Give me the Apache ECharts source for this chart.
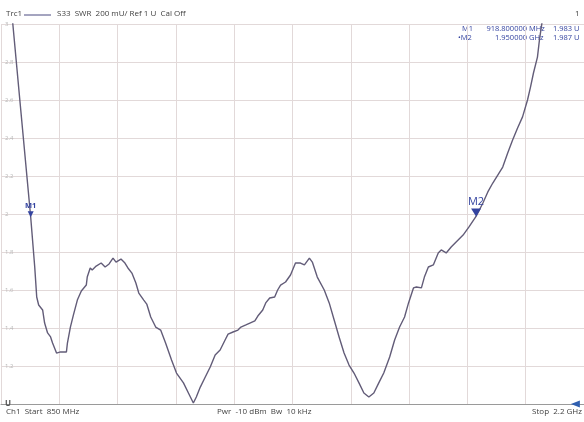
<!DOCTYPE html>
<html>
<head>
<meta charset="utf-8">
<script src="https://cdn.jsdelivr.net/npm/echarts@6/dist/echarts.min.js"></script>
<style>
html,body{margin:0;padding:0;background:#fff;}
#c{width:584px;height:422px;}
</style>
</head>
<body>
<div id="c"></div>
<script>
// ---- data ----
const freqMHz = [870,877.6,893.6,918.8,928.1,932.7,937.2,946.4,951.0,957.9,964.8,969.4,978.6,980.9,987.8,992.4,1001.5,1003.8,1010.7,1017.6,1026.8,1036.0,1047.5,1049.7,1056.6,1061.2,1070.4,1081.9,1091.1,1100.3,1109.4,1116.3,1127.8,1137.0,1143.9,1153.1,1162.3,1169.1,1180.6,1187.5,1196.7,1208.2,1219.7,1231.1,1244.9,1256.4,1272.5,1284.0,1295.4,1302.3,1311.5,1323.0,1334.5,1345.9,1357.4,1368.9,1375.8,1387.3,1398.7,1405.6,1417.1,1426.3,1437.8,1444.7,1456.1,1463.0,1472.2,1483.7,1490.6,1497.4,1508.9,1520.4,1531.9,1543.4,1552.6,1564.1,1570.9,1582.4,1598.5,1610.0,1621.5,1632.9,1644.4,1655.9,1667.4,1678.9,1690.3,1701.8,1713.3,1724.8,1736.3,1750.0,1761.5,1773.0,1784.5,1793.7,1805.1,1812.0,1823.5,1830.4,1839.6,1851.1,1862.5,1869.4,1880.9,1892.4,1903.9,1920.0,1933.7,1950.0,1965.9,1977.3,1988.8,2000.3,2011.8,2023.3,2034.7,2046.2,2057.7,2069.2,2076.1,2083.0,2092.2,2096.8,2103.6,2110.0];
const swr = [3.19,2.995,2.60,1.983,1.721,1.563,1.521,1.495,1.426,1.374,1.353,1.321,1.268,1.263,1.274,1.268,1.274,1.321,1.405,1.468,1.547,1.595,1.626,1.668,1.716,1.705,1.726,1.742,1.721,1.737,1.768,1.747,1.763,1.742,1.716,1.689,1.637,1.584,1.547,1.526,1.458,1.405,1.389,1.321,1.232,1.163,1.111,1.058,1.005,1.037,1.089,1.142,1.195,1.258,1.284,1.337,1.368,1.379,1.389,1.405,1.416,1.426,1.437,1.463,1.495,1.532,1.558,1.563,1.600,1.626,1.642,1.679,1.742,1.742,1.732,1.768,1.747,1.668,1.600,1.532,1.442,1.353,1.268,1.205,1.163,1.111,1.058,1.037,1.058,1.111,1.163,1.247,1.337,1.405,1.458,1.532,1.611,1.616,1.611,1.668,1.721,1.732,1.795,1.811,1.795,1.826,1.853,1.889,1.932,1.987,2.058,2.116,2.163,2.205,2.247,2.321,2.389,2.453,2.511,2.600,2.668,2.742,2.826,2.916,3.021,3.13];
const markerNames = ['M1','M2'];
const markerFreq = [918.8, 1950.0];
const markerSwr = [1.983, 1.987];
const yTickLabels = ['U','1.2','1.4','1.6','1.8','2','2.2','2.4','2.6','2.8','3'];
const refLevel = 1;

const chart = echarts.init(document.getElementById('c'), null, {renderer:'canvas'});
const FONT = 'Open Sans';
const txtCol = '#3f3f3f';
const blue = '#3444a0';

const option = {
  backgroundColor:'#fff',
  animation:false,
  grid:{left:1, top:24, width:588, height:380, containLabel:false},
  xAxis:[
    {type:'value', min:850, max:2200, show:true,
     axisLine:{show:true, lineStyle:{color:'#9a9a9a', width:1}},
     axisTick:{show:false}, axisLabel:{show:false}, splitLine:{show:false}},
    {type:'value', min:0, max:10, interval:1, position:'bottom',
     axisLine:{show:false}, axisTick:{show:false}, axisLabel:{show:false},
     splitLine:{show:true, lineStyle:{color:'#e2d9d9', width:1}}}
  ],
  yAxis:{type:'value', min:1, max:3, interval:0.2,
    axisLine:{show:false}, axisTick:{show:false},
    splitLine:{show:true, lineStyle:{color:'#e2d9d9', width:1}},
    axisLabel:{inside:true, margin:4, fontFamily:FONT, fontSize:6, color:'#b8b8b8',
      formatter:function(v){const i=Math.round((v-1)/0.2); const s=yTickLabels[i]||''; return i===0?'{u|'+s+'}':s;},
      rich:{u:{fontFamily:FONT, fontSize:8, fontWeight:'bold', color:'#555'}}}
  },
  series:[{
    type:'line', xAxisIndex:0, data:freqMHz.map((f,i)=>[f,swr[i]]),
    showSymbol:false, symbol:'none', clip:true,
    lineStyle:{color:'#625c78', width:1.4},
    markPoint:{
      symbol:'triangle', symbolRotate:180, animation:false,
      data:[
        {coord:[markerFreq[0],markerSwr[0]], symbolSize:[6,6], symbolOffset:[0,-3],
         itemStyle:{color:blue},
         label:{show:true, formatter:markerNames[0], position:'top', distance:1, fontFamily:FONT, fontSize:7.5, fontWeight:'bold', color:blue}},
        {coord:[markerFreq[1],markerSwr[1]], symbolSize:[10,8], symbolOffset:[0,-4],
         itemStyle:{color:blue},
         label:{show:true, formatter:markerNames[1], position:'top', distance:1, fontFamily:FONT, fontSize:11, color:blue}},
        {coord:[2180, refLevel], symbol:'triangle', symbolRotate:90, symbolSize:[7,9], symbolOffset:[0,0],
         itemStyle:{color:'#2f5fb0'}, label:{show:false}}
      ]
    }
  }],
  graphic:[
    {type:'text', left:6, top:10, style:{text:'Trc1', fontFamily:FONT, fontSize:8, fill:txtCol}},
    {type:'line', shape:{x1:24, y1:15, x2:51, y2:15}, style:{stroke:'#4a4a80', lineWidth:1}},
    {type:'text', left:57, top:10, style:{text:'S33  SWR  200 mU/ Ref 1 U  Cal Off', fontFamily:FONT, fontSize:8, fill:txtCol}},
    {type:'text', left:575, top:10, style:{text:'1', fontFamily:FONT, fontSize:8, fill:txtCol}},
    {type:'text', left:462, top:25, style:{text:'M1', fontFamily:FONT, fontSize:7.5, fill:blue}},
    {type:'text', right:57, top:25, style:{text:'918.800000', fontFamily:FONT, fontSize:7.5, fill:blue, textAlign:'right'}},
    {type:'text', left:529, top:25, style:{text:'MHz', fontFamily:FONT, fontSize:7.5, fill:blue}},
    {type:'text', left:553, top:25, style:{text:'1.983 U', fontFamily:FONT, fontSize:7.5, fill:blue}},
    {type:'text', left:458, top:34, style:{text:'\u2022M2', fontFamily:FONT, fontSize:7.5, fill:blue}},
    {type:'text', right:57, top:34, style:{text:'1.950000', fontFamily:FONT, fontSize:7.5, fill:blue, textAlign:'right'}},
    {type:'text', left:529, top:34, style:{text:'GHz', fontFamily:FONT, fontSize:7.5, fill:blue}},
    {type:'text', left:553, top:34, style:{text:'1.987 U', fontFamily:FONT, fontSize:7.5, fill:blue}},
    {type:'text', left:6, top:408, style:{text:'Ch1  Start  850 MHz', fontFamily:FONT, fontSize:8, fill:txtCol}},
    {type:'text', left:217, top:408, style:{text:'Pwr  -10 dBm  Bw  10 kHz', fontFamily:FONT, fontSize:8, fill:txtCol}},
    {type:'text', right:2, top:408, style:{text:'Stop  2.2 GHz', fontFamily:FONT, fontSize:8, fill:txtCol}}
  ]
};
chart.setOption(option);
</script>
</body>
</html>
